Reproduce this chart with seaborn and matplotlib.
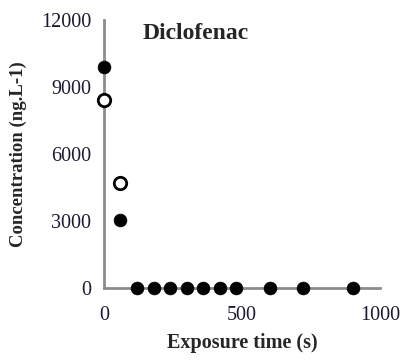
import numpy as np
import pandas as pd
import matplotlib
matplotlib.use('Agg')
import matplotlib.pyplot as plt
import seaborn as sns

# measured (filled) and predicted (open) concentrations
time_filled = [0, 60, 120, 180, 240, 300, 360, 420, 480, 600, 720, 900]
conc_filled = [9900, 3050, 0, 0, 0, 0, 0, 0, 0, 0, 0, 0]
time_open = [0, 60]
conc_open = [8400, 4700]
x_ticks = [0, 500, 1000]
y_ticks = [0, 3000, 6000, 9000, 12000]

sns.set_style('white')
plt.rcParams['font.family'] = ['Liberation Serif', 'DejaVu Serif']

filled = pd.DataFrame({'time': time_filled, 'conc': conc_filled})
opened = pd.DataFrame({'time': time_open, 'conc': conc_open})

fig = plt.figure(figsize=(4.01, 3.63), dpi=100)
ax = fig.add_axes([0.259, 0.207, 0.689, 0.738])

sns.scatterplot(data=filled, x='time', y='conc', ax=ax, color='black', s=85,
                edgecolor='black', linewidth=0.5, clip_on=False, zorder=3)
sns.scatterplot(data=opened, x='time', y='conc', ax=ax, color='white', s=80,
                edgecolor='black', linewidth=2, clip_on=False, zorder=3)

ax.set_xlim(0, 1000)
ax.set_ylim(0, 12000)
ax.set_xticks(x_ticks)
ax.set_yticks(y_ticks)
for s in ['top', 'right']:
    ax.spines[s].set_visible(False)
for s in ['left', 'bottom']:
    ax.spines[s].set_color('#8c8c8c')
    ax.spines[s].set_linewidth(2)
ax.tick_params(axis='both', direction='out', length=4, width=1, color='#8c8c8c',
               labelsize=14.5, labelcolor='#1a1a33', pad=5)
ax.tick_params(axis='x', pad=9)

ax.set_xlabel('Exposure time (s)', fontsize=14.5, fontweight='bold', labelpad=6)
ax.set_ylabel('Concentration (ng.L-1)', fontsize=13.5, fontweight='bold', labelpad=10)
ax.text(0.14, 0.95, 'Diclofenac', transform=ax.transAxes, fontsize=17,
        fontweight='bold', va='center', ha='left')

fig.savefig('out.png', dpi=100)
